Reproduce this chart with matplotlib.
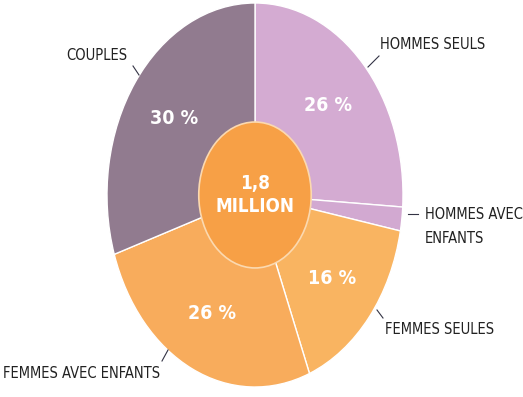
import matplotlib
matplotlib.use('Agg')
import matplotlib.pyplot as plt
from matplotlib.patches import Circle

labels = ['HOMMES SEULS', 'HOMMES AVEC\nENFANTS', 'FEMMES SEULES', 'FEMMES AVEC ENFANTS', 'COUPLES']
values = [26, 2, 16, 26, 30]
colors = ['#D4ABD2', '#D2A9D1', '#F9B461', '#F8AC5C', '#917B8F']
total_text = '1,8\nMILLION'

plt.rcParams['font.family'] = ['DejaVu Sans']
plt.rcParams['font.stretch'] = 'condensed'

fig = plt.figure(figsize=(5.23, 3.97), dpi=100)
ax = fig.add_axes([0, 0, 1, 1])

wedges, texts, autotexts = ax.pie(
    values, colors=colors, startangle=90, counterclock=False,
    autopct=lambda p: f'{p:.0f} %' if p > 5 else '', pctdistance=0.68,
    wedgeprops=dict(edgecolor='white', linewidth=1),
    textprops=dict(color='white', fontsize=14, fontweight='bold', fontstretch='condensed'))

# centre disc
ax.add_patch(Circle((0, 0), 0.38, facecolor='#F7A046', edgecolor='#FBD9B0', linewidth=1.2, zorder=3))
ax.text(0, 0.0, total_text, ha='center', va='center', color='white', fontsize=13.5,
        fontweight='bold', fontstretch='condensed', linespacing=1.25, zorder=4)

# stretch the pie like the source image
ax.set_aspect('auto')
ax.set_xlim(-255 / 148, (523 - 255) / 148)
ax.set_ylim(-(397 - 195) / 192, 195 / 192)
ax.axis('off')

def px(x, y):
    return ((x - 255) / 148, (195 - y) / 192)

lab_style = dict(fontsize=10.5, color='#222222', fontstretch='condensed')
line_style = dict(color='#333344', lw=0.8)

# label positions and leader lines
ax.text(*px(380, 45), labels[0], ha='left', va='center', **lab_style)
ax.plot(*zip(px(368, 67), px(379, 56)), **line_style)

ax.text(*px(425, 227), labels[1], ha='left', va='center', linespacing=1.75, **lab_style)
ax.plot(*zip(px(408, 214), px(418, 214)), **line_style)

ax.text(*px(385, 330), labels[2], ha='left', va='center', **lab_style)
ax.plot(*zip(px(377, 310), px(383, 318)), **line_style)

ax.text(*px(3, 373), labels[3], ha='left', va='center', **lab_style)
ax.plot(*zip(px(162, 361), px(168, 350)), **line_style)

ax.text(*px(127, 55), labels[4], ha='right', va='center', **lab_style)
ax.plot(*zip(px(133, 66), px(139, 75)), **line_style)

fig.savefig('out.png', dpi=100, facecolor='white')
